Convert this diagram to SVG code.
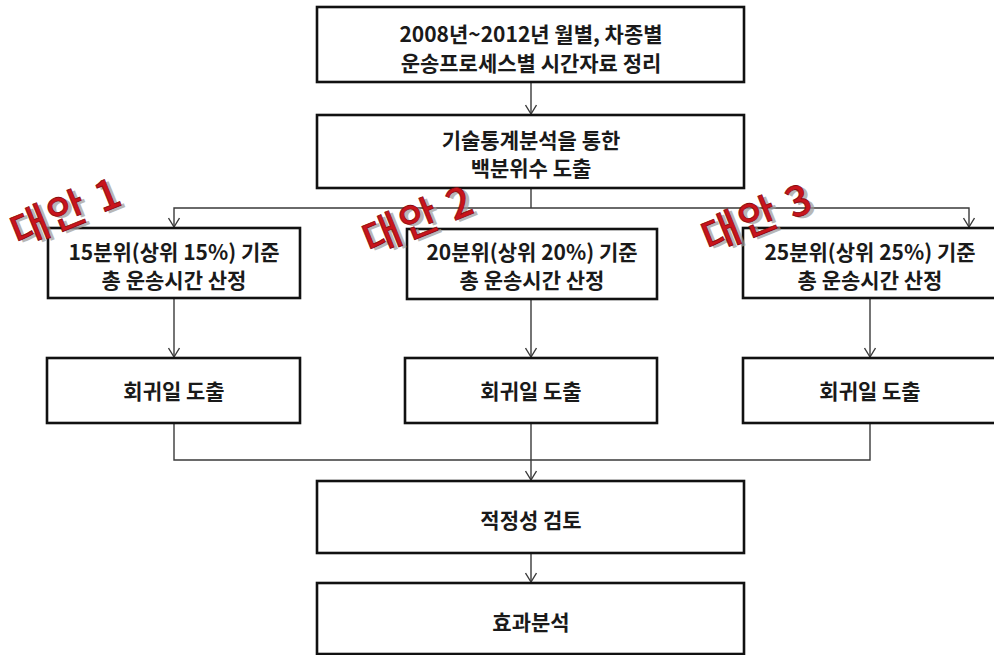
<svg xmlns="http://www.w3.org/2000/svg" width="994" height="655" viewBox="0 0 994 655">
<style>
.box{fill:#fff;stroke:#111;stroke-width:2.6}
.t{font-family:"Noto Sans CJK KR","Noto Sans",sans-serif;font-weight:bold;font-size:21px;fill:#1a1a1a;text-anchor:middle;dominant-baseline:central}
.c{fill:none;stroke:#3a3a3a;stroke-width:1.4}
.alt{font-family:"Noto Sans CJK KR",sans-serif;font-size:41px;font-weight:500;letter-spacing:2px}
.altf{fill:#c8141c;stroke:#8a0a0e;stroke-width:0.8}
.alts{fill:#9a9a9a;opacity:0.7}
</style>
<defs>
<marker id="ah" markerWidth="12" markerHeight="12" refX="10" refY="6" orient="auto-start-reverse" markerUnits="userSpaceOnUse" viewBox="0 0 12 12">
<path d="M1,0.5 L10,6 L1,11.5" fill="none" stroke="#3a3a3a" stroke-width="1.4"/>
</marker>
</defs>
<rect width="994" height="655" fill="#fff"/>
<g id="connectors">
<path class="c" d="M531,82 V114" marker-end="url(#ah)"/>
<path class="c" d="M531,188 V208"/>
<path class="c" d="M174,227 V208 H969 V227" marker-end="url(#ah)" marker-start="url(#ah)"/>
<path class="c" d="M174,298 V357" marker-end="url(#ah)"/>
<path class="c" d="M531,299 V357" marker-end="url(#ah)"/>
<path class="c" d="M870,299 V357" marker-end="url(#ah)"/>
<path class="c" d="M174,424 V460 H870 V424"/>
<path class="c" d="M531,424 V480" marker-end="url(#ah)"/>
<path class="c" d="M531,553 V582" marker-end="url(#ah)"/>
</g>
<g id="n1"><rect class="box" x="317" y="7" width="427" height="75"/>
<text class="t" x="531" y="33">2008년~2012년  월별, 차종별</text>
<text class="t" x="531" y="62">운송프로세스별 시간자료 정리</text></g>
<g id="n2"><rect class="box" x="317" y="115" width="427" height="73"/>
<text class="t" x="531" y="139">기술통계분석을 통한</text>
<text class="t" x="531" y="167">백분위수 도출</text></g>
<g id="n3a"><rect class="box" x="48" y="228" width="252" height="70"/>
<text class="t" x="174" y="251">15분위(상위 15%) 기준</text>
<text class="t" x="174" y="279">총 운송시간 산정</text></g>
<g id="n3b"><rect class="box" x="407" y="229" width="250" height="70"/>
<text class="t" x="532" y="251">20분위(상위 20%) 기준</text>
<text class="t" x="532" y="279">총 운송시간 산정</text></g>
<g id="n3c"><rect class="box" x="743" y="228" width="262" height="70"/>
<text class="t" x="870" y="251">25분위(상위 25%) 기준</text>
<text class="t" x="870" y="279">총 운송시간 산정</text></g>
<g id="n4a"><rect class="box" x="47" y="358" width="253" height="65"/>
<text class="t" x="174" y="390">회귀일 도출</text></g>
<g id="n4b"><rect class="box" x="405" y="358" width="252" height="65"/>
<text class="t" x="531" y="390">회귀일 도출</text></g>
<g id="n4c"><rect class="box" x="743" y="358" width="262" height="65"/>
<text class="t" x="870" y="390">회귀일 도출</text></g>
<g id="n5"><rect class="box" x="317" y="481" width="427" height="72"/>
<text class="t" x="531" y="519">적정성 검토</text></g>
<g id="n6"><rect class="box" x="317" y="583" width="427" height="71"/>
<text class="t" x="531" y="621">효과분석</text></g>
<g id="labels">
<g transform="translate(18,247) rotate(-22)">
<text class="alt alts" x="3" y="3">대안 1</text>
<text class="alt altf" x="0" y="0">대안 1</text></g>
<g transform="translate(370,255) rotate(-22)">
<text class="alt alts" x="3" y="3">대안 2</text>
<text class="alt altf" x="0" y="0">대안 2</text></g>
<g transform="translate(709,253) rotate(-22)">
<text class="alt alts" x="3" y="3">대안 3</text>
<text class="alt altf" x="0" y="0">대안 3</text></g>
</g>
</svg>
